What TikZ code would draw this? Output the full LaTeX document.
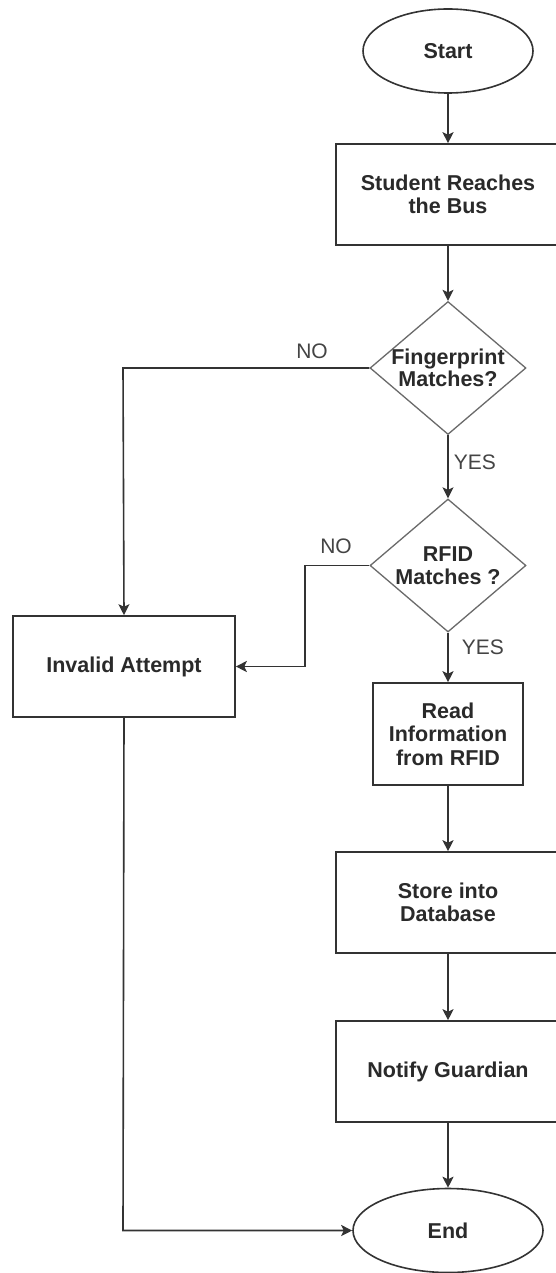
\documentclass[tikz,border=0pt]{standalone}
\usepackage{fontspec}
\setmainfont{Liberation Sans}
\usetikzlibrary{shapes.geometric,arrows.meta}
\definecolor{lineC}{HTML}{333333}
\definecolor{diaC}{HTML}{6A6A6A}
\definecolor{txtC}{HTML}{2A2A2A}
\definecolor{lblC}{HTML}{444444}
\tikzset{
  base/.style={draw=lineC, line width=1.6pt, text=txtC, align=center, inner sep=0pt,
    font=\fontsize{21.5}{23.5}\selectfont\bfseries},
  procbox/.style={base, rectangle, minimum width=#1, minimum height=101pt},
  term/.style={base, ellipse, minimum height=84pt, minimum width=#1},
  dia/.style={draw=diaC, line width=1.3pt, diamond, minimum width=156pt, minimum height=133pt, inner sep=0pt},
  diatext/.style={text=txtC, align=center, inner sep=0pt, font=\fontsize{21.5}{22.5}\selectfont\bfseries},
  arr/.style={draw=lineC, line width=1.6pt, -{Stealth[length=11pt,width=11pt,inset=2.5pt]}},
  lbl/.style={text=lblC, inner sep=0pt, font=\fontsize{21}{23}\selectfont}
}
\begin{document}
\begin{tikzpicture}[x=1pt,y=-1pt]
\useasboundingbox[fill=white] (0,0) rectangle (556,1273);
\node[term=170pt] (start) at (448,51) {Start};
\node[procbox=224pt] (student) at (448,194.5) {Student Reaches\\the Bus};
\node[dia, label={[diatext]center:Fingerprint\\Matches?}] (fp) at (448,368) {};
\node[dia, label={[diatext]center:RFID\\Matches ?}] (rfid) at (448,565.5) {};
\node[procbox=222pt] (invalid) at (124,666.5) {Invalid Attempt};
\node[procbox=150pt, minimum height=102pt] (read) at (448,734) {Read\\Information\\from RFID};
\node[procbox=224pt] (store) at (448,902.5) {Store into\\Database};
\node[procbox=224pt] (notify) at (448,1071.5) {Notify Guardian};
\node[term=190pt] (end) at (448,1230.5) {End};

\coordinate (fpturn) at (123,368);
\coordinate (rfturn1) at (305,565.5);
\coordinate (rfturn2) at (305,666.5);
\coordinate (invturn) at (123,1230.5);

\draw[arr] (start) -- (student);
\draw[arr] (student) -- (fp.north);
\draw[arr] (fp.south) -- (rfid.north) node[lbl, pos=0.43, right, xshift=5pt] (yes1) {YES};
\draw[arr] (rfid.south) -- (read.north) node[lbl, pos=0.3, right, xshift=13pt] (yes2) {YES};
\draw[arr] (fp.west) -- (fpturn) -- (invalid.north);
\node[lbl] (no1) at (312,351) {NO};
\draw[arr] (rfid.west) -- (rfturn1) -- (rfturn2) -- (invalid.east);
\node[lbl] (no2) at (336,546) {NO};
\draw[arr] (read) -- (store);
\draw[arr] (store) -- (notify);
\draw[arr] (notify) -- (end);
\draw[arr] (invalid.south) -- (invturn) -- (end.west);
\end{tikzpicture}
\end{document}
